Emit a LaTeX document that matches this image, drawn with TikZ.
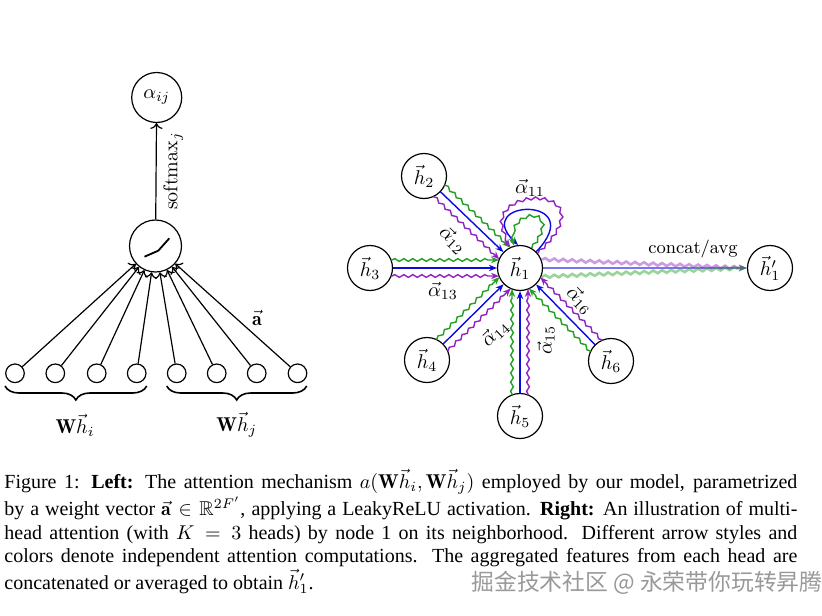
\documentclass[tikz,border=0pt]{standalone}
\usepackage{amsmath,amssymb}
\usepackage{fontspec}
\newfontfamily\capfont{Liberation Serif}
\newfontfamily\cjkfont{Noto Sans CJK SC}
\usetikzlibrary{calc,decorations.pathmorphing,decorations.pathreplacing,arrows.meta}
\definecolor{gatgreen}{RGB}{34,160,34}
\definecolor{gatblue}{RGB}{10,10,225}
\definecolor{gatpurple}{RGB}{145,35,195}
\tikzset{
  nd/.style={circle, draw, line width=0.6pt, minimum size=22.5pt, inner sep=0pt},
  bignd/.style={circle, draw, line width=0.6pt, minimum size=25pt, inner sep=0pt},
  smallnd/.style={circle, draw, line width=0.6pt, minimum size=9.3pt, inner sep=0pt},
  plain/.style={line width=0.6pt, ->},
  ctip/.style={-{Stealth[length=4pt,width=3.2pt]}},
  snk/.style={decorate, decoration={snake, amplitude=0.7pt, segment length=4.5pt, pre length=0.5pt, post length=3.5pt}},
  bluearr/.style={ctip, gatblue, line width=0.7pt},
  greenarr/.style={ctip, gatgreen, line width=0.7pt, snk},
  purparr/.style={ctip, gatpurple, line width=0.7pt, snk},
  brc/.style={decorate, decoration={brace, mirror, amplitude=7pt}, line width=0.8pt},
  captext/.style={inner sep=0pt, font=\capfont\fontsize{10}{11.75}\selectfont},
}
\begin{document}
\begin{tikzpicture}[x=0.5pt,y=-0.5pt]
\useasboundingbox (0,0) rectangle (822,615);
\fill[white] (0,0) rectangle (822,615);

% ---------- left: attention mechanism ----------
\node[bignd] (aij) at (156.7,97.5) {$\alpha_{ij}$};
\node[bignd, minimum size=26pt] (act) at (155.5,246) {};
\draw[line width=0.9pt] ($(act)+(-11,10.7)$) -- ++(13.8,-6) -- ++(11,-12.4);
\draw[plain] (act) -- (aij) node[midway, rotate=90, anchor=north] {softmax$_j$};
\foreach \i/\x in {1/15,2/55.3,3/96.7,4/136.7,5/176.7,6/216.7,7/256.7,8/297.5}{
  \node[smallnd] (s\i) at (\x,373.3) {};
  \draw[plain] (s\i) -- (act);
}
\node at (257,318) {$\vec{\mathbf{a}}$};
\draw[brc] (5,386) -- (146.7,386);
\draw[brc] (166.7,386) -- (306.7,386);
\node at (75,425) {$\mathbf{W}\vec{h}_i$};
\node at (236.7,425) {$\mathbf{W}\vec{h}_j$};

% ---------- right: multi-head attention ----------
\node[nd] (h1) at (520,268) {$\vec{h}_1$};
\node[nd] (h2) at (424,176) {$\vec{h}_2$};
\node[nd] (h3) at (370,268) {$\vec{h}_3$};
\node[nd] (h4) at (427,360) {$\vec{h}_4$};
\node[nd] (h5) at (520,416) {$\vec{h}_5$};
\node[nd] (h6) at (611,361) {$\vec{h}_6$};
\node[nd] (h1p) at (770,268) {$\vec{h}'_1$};

\foreach \n in {2,...,6}{
  \draw[bluearr] (h\n) -- (h1);
  \coordinate (s) at ($(h\n)!10.5pt!(h1)$);
  \coordinate (e) at ($(h1)!10.5pt!(h\n)$);
  \draw[greenarr] ($(s)!4pt!90:(e)$) -- ($(e)!4pt!-90:(s)$);
  \draw[purparr] ($(s)!4pt!-90:(e)$) -- ($(e)!4pt!90:(s)$);
}

% self loops
\draw[purparr] (h1.40) .. controls +(77.8,-73.5) and +(-50.5,-60.6) .. (h1.115);
\draw[bluearr] (h1.45) .. controls +(54.1,-57.1) and +(-48,-45.6) .. (h1.95);
\draw[greenarr] (h1.60) .. controls +(33.75,-43.5) and +(-14.2,-34.3) .. (h1.105);

% output
\draw[bluearr, line width=1.3pt, opacity=0.55] (h1) -- (h1p);
\draw[purparr, line width=1.3pt, opacity=0.45] (h1.22) -- (h1p.west);
\draw[greenarr, line width=1.3pt, opacity=0.45] (h1.-22) -- (h1p.west);
\node[font=\small] at (693,249) {concat/avg};

% attention labels
\node at (530,188) {$\vec{\alpha}_{11}$};
\node[rotate=-44] at (453,240) {$\vec{\alpha}_{12}$};
\node at (443,291) {$\vec{\alpha}_{13}$};
\node[rotate=44] at (495,333) {$\vec{\alpha}_{14}$};
\node[rotate=90] at (546,340) {$\vec{\alpha}_{15}$};
\node[rotate=-46] at (580,300) {$\vec{\alpha}_{16}$};

% ---------- caption ----------
\node[captext, anchor=north west, text width=396.5pt, align=justify] (cap) at (4,469)
{\parfillskip=0pt Figure 1: \textbf{Left:} The attention mechanism $a(\mathbf{W}\vec{h}_i,\mathbf{W}\vec{h}_j)$ employed by our model, parametrized\linebreak
by a weight vector $\vec{\mathbf{a}}\in\mathbb{R}^{2F'}$, applying a LeakyReLU activation. \textbf{Right:} An illustration of multi-\linebreak
head attention (with $K=3$ heads) by node 1 on its neighborhood. Different arrow styles and\linebreak
colors denote independent attention computations. The aggregated features from each head are\par};
\node[captext, anchor=base west] (cap2) at (4,589) {concatenated or averaged to obtain $\vec{h}'_1$.};
\node[text=black!40, font=\cjkfont\fontsize{11.4}{13}\selectfont] (wm) at (647,583) {掘金技术社区 @ 永荣带你玩转昇腾};
\end{tikzpicture}
\end{document}
